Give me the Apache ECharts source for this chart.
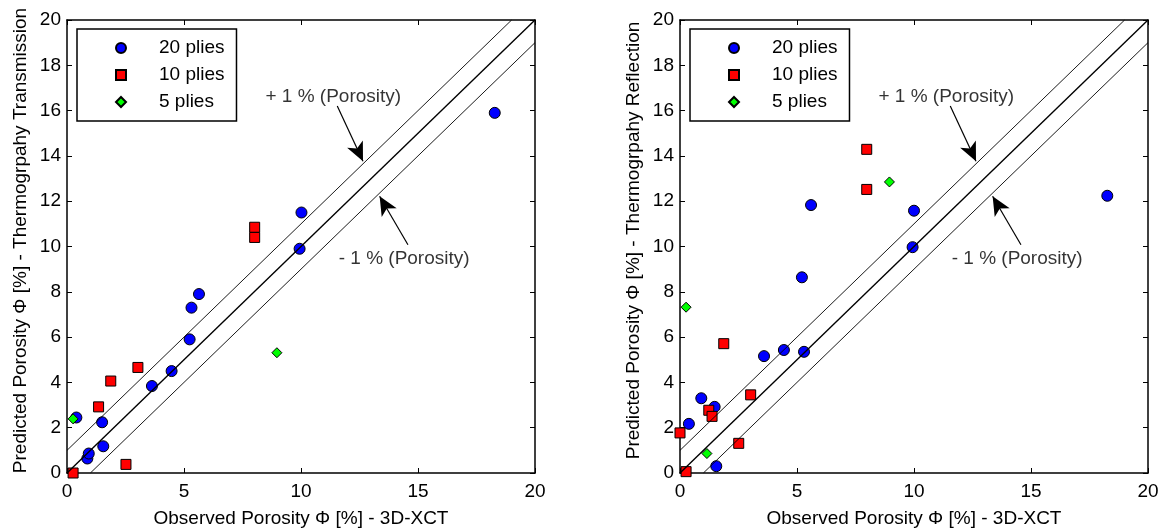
<!DOCTYPE html>
<html>
<head>
<meta charset="utf-8">
<script src="https://cdn.jsdelivr.net/npm/echarts@6/dist/echarts.min.js"></script>
<style>
  html, body { margin: 0; padding: 0; background: #fff; }
  #chart { width: 1164px; height: 531px; }
</style>
</head>
<body>
<div id="chart"></div>
<script>
// Axis ticks (both panels share the same 0–20 % scales)
const xTicks = [0, 5, 10, 15, 20];
const yTicks = [0, 2, 4, 6, 8, 10, 12, 14, 16, 18, 20];

const xTitle = 'Observed Porosity \u03A6 [%] - 3D-XCT';
const yTitleTrans = 'Predicted Porosity \u03A6 [%] - Thermogrpahy Transmission';
const yTitleRefl = 'Predicted Porosity \u03A6 [%] - Thermogrpahy Reflection';

const groupNames = ['20 plies', '10 plies', '5 plies'];

// Panel 1: thermography transmission vs. 3D-XCT  [observed, predicted]
const trans20 = [[0.40, 2.45], [0.87, 0.64], [0.93, 0.86], [1.50, 2.24], [1.55, 1.18],
                 [3.63, 3.84], [4.47, 4.50], [5.24, 5.90], [5.32, 7.30], [5.64, 7.90],
                 [9.94, 9.90], [10.02, 11.50], [18.28, 15.90]];
const trans10 = [[0.26, 0.00], [1.35, 2.92], [1.87, 4.06], [2.52, 0.38], [3.03, 4.66],
                 [8.02, 10.40], [8.02, 10.85]];
const trans5  = [[0.26, 2.39], [8.97, 5.31]];

// Panel 2: thermography reflection vs. 3D-XCT  [observed, predicted]
const refl20 = [[0.38, 2.17], [0.91, 3.30], [1.48, 2.92], [1.55, 0.30], [3.59, 5.16],
                [4.44, 5.43], [5.21, 8.64], [5.30, 5.35], [5.60, 11.83], [9.94, 9.97],
                [10.00, 11.58], [18.26, 12.24]];
const refl10 = [[0.00, 1.77], [0.26, 0.06], [1.23, 2.77], [1.37, 2.50], [1.87, 5.71],
                [2.51, 1.31], [3.02, 3.45], [7.98, 12.52], [7.98, 14.29]];
const refl5  = [[0.26, 7.32], [1.15, 0.86], [8.95, 12.85]];

// Reference lines: y = x and the ±1 % porosity band
const lineEqual = [[0, 0], [20, 20]];
const linePlus  = [[0, 1], [19, 20]];
const lineMinus = [[1, 0], [20, 19]];

// Band annotations: text anchor and arrow (tail -> head)
const plusLabel  = { text: '+ 1 % (Porosity)', at: [8.48, 16.62], tail: [11.55, 16.2], head: [12.65, 13.76] };
const minusLabel = { text: '- 1 % (Porosity)', at: [11.61, 9.46], tail: [14.57, 10.08], head: [13.36, 12.22] };

const FONT = '"Liberation Sans", Arial, Helvetica, sans-serif';
const FS = 19;

const grids = [
  { left: 67, top: 20, width: 468, height: 453, outerBoundsMode: 'none', containLabel: false },
  { left: 680, top: 20, width: 468, height: 453, outerBoundsMode: 'none', containLabel: false }
];

function mainX(gi) {
  return {
    type: 'value', gridIndex: gi, position: 'bottom',
    min: xTicks[0], max: xTicks[xTicks.length - 1], interval: xTicks[1] - xTicks[0],
    name: xTitle, nameLocation: 'middle', nameGap: 36,
    nameTextStyle: { color: '#000', fontSize: FS, fontFamily: FONT },
    axisLine: { show: true, onZero: false, lineStyle: { color: '#000', width: 1.5 } },
    axisTick: { show: true, inside: true, length: 5, lineStyle: { color: '#000', width: 1 } },
    axisLabel: { show: true, color: '#000', fontSize: FS, fontFamily: FONT, margin: 9 },
    splitLine: { show: false }
  };
}
function mirrorX(gi) {
  return {
    type: 'value', gridIndex: gi, position: 'top',
    min: xTicks[0], max: xTicks[xTicks.length - 1], interval: xTicks[1] - xTicks[0],
    axisLine: { show: true, onZero: false, lineStyle: { color: '#000', width: 1.5 } },
    axisTick: { show: true, inside: true, length: 5, lineStyle: { color: '#000', width: 1 } },
    axisLabel: { show: false }, splitLine: { show: false }
  };
}
function mainY(gi, title) {
  return {
    type: 'value', gridIndex: gi, position: 'left',
    min: yTicks[0], max: yTicks[yTicks.length - 1], interval: yTicks[1] - yTicks[0],
    name: title, nameLocation: 'middle', nameGap: 37,
    nameTextStyle: { color: '#000', fontSize: FS, fontFamily: FONT, padding: [0, 0, 0, 12] },
    axisLine: { show: true, onZero: false, lineStyle: { color: '#000', width: 1.5 } },
    axisTick: { show: true, inside: true, length: 5, lineStyle: { color: '#000', width: 1 } },
    axisLabel: { show: true, color: '#000', fontSize: FS, fontFamily: FONT, margin: 6 },
    splitLine: { show: false }
  };
}
function mirrorY(gi) {
  return {
    type: 'value', gridIndex: gi, position: 'right',
    min: yTicks[0], max: yTicks[yTicks.length - 1], interval: yTicks[1] - yTicks[0],
    axisLine: { show: true, onZero: false, lineStyle: { color: '#000', width: 1.5 } },
    axisTick: { show: true, inside: true, length: 5, lineStyle: { color: '#000', width: 1 } },
    axisLabel: { show: false }, splitLine: { show: false }
  };
}

const markerStyles = [
  { symbol: 'circle', symbolSize: 11, color: '#0000ff' },
  { symbol: 'rect', symbolSize: 10, color: '#ff0000' },
  { symbol: 'diamond', symbolSize: 10, color: '#00ff00' }
];

function scatterSeries(name, data, style, ax) {
  return {
    type: 'scatter', name: name, data: data,
    xAxisIndex: ax, yAxisIndex: ax,
    symbol: style.symbol, symbolSize: style.symbolSize,
    itemStyle: { color: style.color, borderColor: '#000', borderWidth: 1, opacity: 1 },
    emphasis: { disabled: true }, z: 2
  };
}

function refLine(data, width, ax) {
  return {
    type: 'line', data: data, xAxisIndex: ax, yAxisIndex: ax,
    symbol: 'none', silent: true, z: 4,
    lineStyle: { color: '#000', width: width }, emphasis: { disabled: true }
  };
}

function annotation(note, ax) {
  return {
    type: 'scatter', data: [note.at], xAxisIndex: ax, yAxisIndex: ax,
    symbolSize: 0, silent: true, z: 5,
    label: {
      show: true, position: 'right', distance: 0,
      formatter: note.text, color: '#000', fontSize: FS, fontFamily: FONT
    },
    markLine: {
      silent: true, symbol: ['none', 'arrow'], symbolSize: [13, 19],
      label: { show: false },
      lineStyle: { color: '#000', width: 1.2, type: 'solid' },
      emphasis: { disabled: true },
      data: [[{ coord: note.tail }, { coord: note.head }]]
    }
  };
}

function legendFor(gi) {
  return {
    orient: 'vertical',
    left: grids[gi].left + 10, top: 29,
    padding: [9, 12, 9, 38],
    itemWidth: 10, itemHeight: 10, itemGap: 7,
    borderColor: '#000', borderWidth: 1.5, borderRadius: 0,
    backgroundColor: '#fff',
    selectedMode: false,
    textStyle: { color: '#000', fontSize: FS, fontFamily: FONT, lineHeight: 20, padding: [0, 0, 0, 28] },
    data: groupNames
  };
}

// axis index layout: 0,1 = left panel (main, mirror); 2,3 = right panel
const panels = [
  { sets: [trans20, trans10, trans5], ax: 0 },
  { sets: [refl20, refl10, refl5], ax: 2 }
];

const series = [];
panels.forEach(function (p) {
  p.sets.forEach(function (d, i) {
    series.push(scatterSeries(groupNames[i], d, markerStyles[i], p.ax));
  });
  series.push(refLine(lineEqual, 1.4, p.ax));
  series.push(refLine(linePlus, 0.9, p.ax));
  series.push(refLine(lineMinus, 0.9, p.ax));
  series.push(annotation(plusLabel, p.ax));
  series.push(annotation(minusLabel, p.ax));
});

const chart = echarts.init(document.getElementById('chart'), null, { renderer: 'canvas' });
chart.setOption({
  backgroundColor: '#fff',
  animation: false,
  textStyle: { fontFamily: FONT },
  grid: grids,
  xAxis: [mainX(0), mirrorX(0), mainX(1), mirrorX(1)],
  yAxis: [mainY(0, yTitleTrans), mirrorY(0), mainY(1, yTitleRefl), mirrorY(1)],
  legend: [legendFor(0), legendFor(1)],
  series: series
});
</script>
</body>
</html>
